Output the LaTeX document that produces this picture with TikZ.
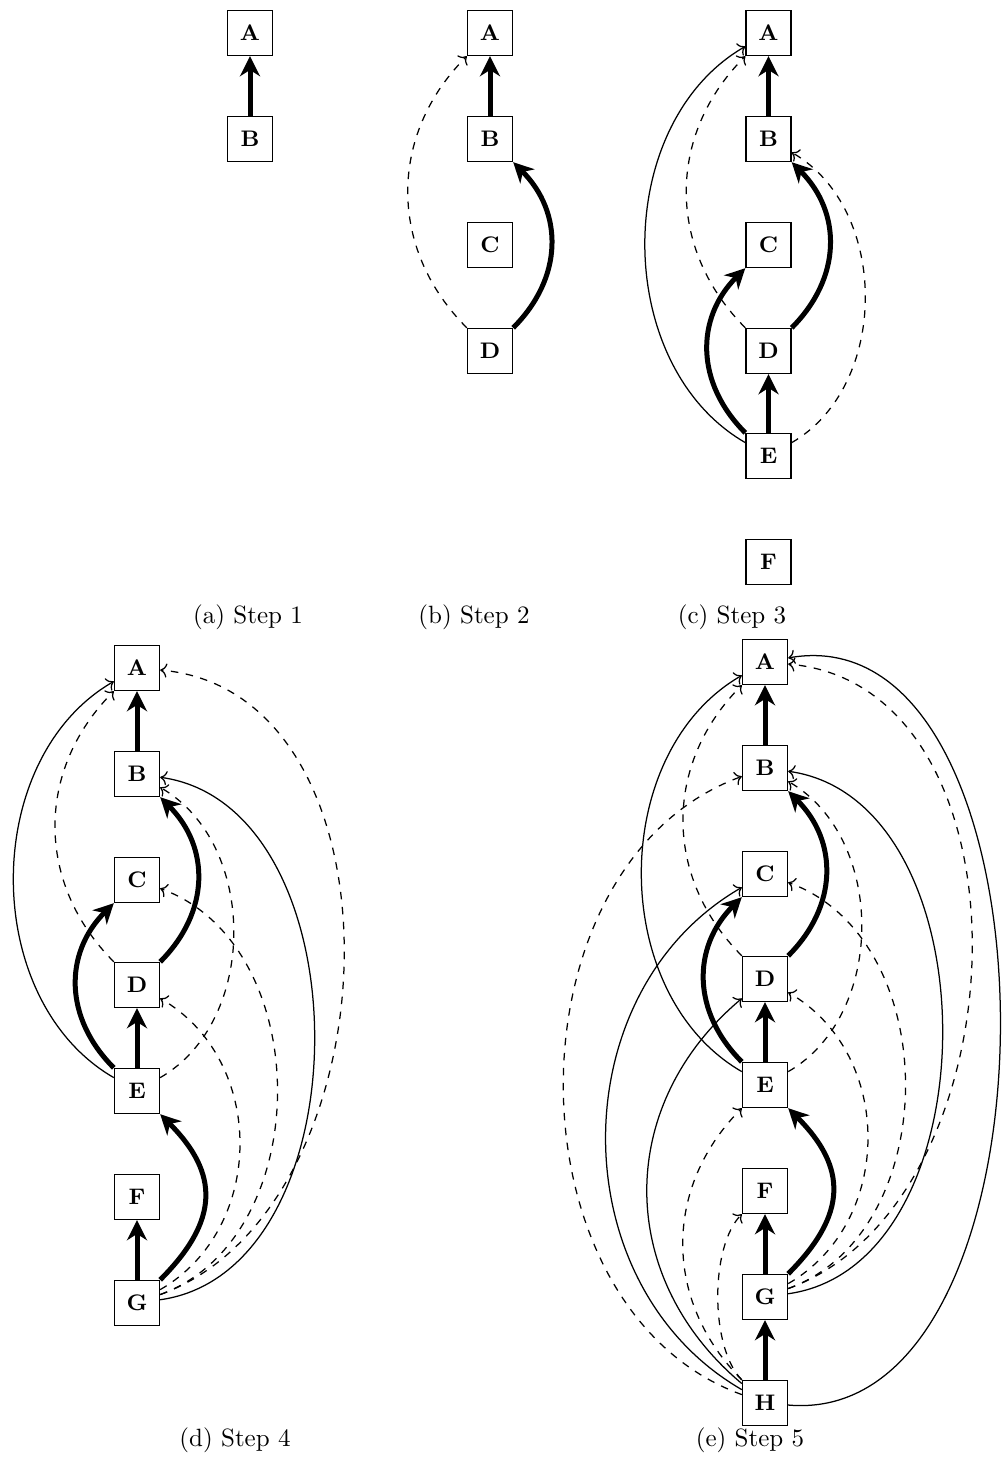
\documentclass[tikz,border=0pt]{standalone}
\usetikzlibrary{arrows.meta}
\begin{document}
\begin{tikzpicture}[x=0.4pt, y=-0.4pt,
  nd/.style={draw, line width=0.55pt, fill=white, minimum size=18pt, inner sep=0pt,
    font=\fontsize{9}{10}\selectfont\bfseries},
  tk/.style={line width=2pt, -{Stealth[length=8pt,width=8pt,inset=2.5pt]}},
  sl/.style={line width=0.5pt, ->},
  ds/.style={line width=0.5pt, dashed, ->},
  captxt/.style={font=\normalsize}]
\useasboundingbox (0,0) rectangle (1002,1476);

% ---------- (a) ----------
\node[nd] (aA) at (250,33) {A};
\node[nd] (aB) at (250,139) {B};
\draw[tk] (aB) -- (aA);
\node[captxt] (capa) at (248,617) {(a) Step 1};

% ---------- (b) ----------
\node[nd] (bA) at (490,33) {A};
\node[nd] (bB) at (490,139) {B};
\node[nd] (bC) at (490,245) {C};
\node[nd] (bD) at (490,351) {D};
\draw[tk] (bB) -- (bA);
\draw[tk] (bD) to[bend right=45, looseness=1.1] (bB);
\draw[ds] (bD) to[bend left=45, looseness=1.05] (bA);
\node[captxt] (capb) at (474,617) {(b) Step 2};

% ---------- (c) ----------
\node[nd] (cA) at (768.5,33) {A};
\node[nd] (cB) at (768.5,139) {B};
\node[nd] (cC) at (768.5,245) {C};
\node[nd] (cD) at (768.5,351) {D};
\node[nd] (cE) at (768.5,456) {E};
\node[nd] (cF) at (768.5,562) {F};
\draw[tk] (cB) -- (cA);
\draw[tk] (cD) to[bend right=45, looseness=1.1] (cB);
\draw[ds] (cD) to[bend left=45, looseness=1.05] (cA);
\draw[tk] (cE) -- (cD);
\draw[tk] (cE) to[bend left=45, looseness=1.1] (cC);
\draw[sl] (cE) to[bend left=60] (cA);
\draw[ds] (cE) to[bend right=60] (cB);
\node[captxt] (capc) at (732,617) {(c) Step 3};

% ---------- (d) ----------
\node[nd] (dA) at (137,668) {A};
\node[nd] (dB) at (137,774) {B};
\node[nd] (dC) at (137,880) {C};
\node[nd] (dD) at (137,985) {D};
\node[nd] (dE) at (137,1091) {E};
\node[nd] (dF) at (137,1197) {F};
\node[nd] (dG) at (137,1303) {G};
\draw[tk] (dB) -- (dA);
\draw[tk] (dD) to[bend right=45, looseness=1.1] (dB);
\draw[ds] (dD) to[bend left=45, looseness=1.05] (dA);
\draw[tk] (dE) -- (dD);
\draw[tk] (dE) to[bend left=45, looseness=1.1] (dC);
\draw[sl] (dE) to[bend left=60] (dA);
\draw[ds] (dE) to[bend right=60] (dB);
\draw[tk] (dG) -- (dF);
\draw[tk] (dG) to[bend right=45, looseness=1.3] (dE);
\draw[ds] (dG) to[bend right=60, looseness=1.08] (dD);
\draw[ds] (dG) to[bend right=70, looseness=1.05] (dC);
\draw[sl] (dG) to[bend right=82, looseness=1.02] (dB);
\draw[ds] (dG) to[out=20, in=-5, looseness=1.04] (dA);
\node[captxt] (capd) at (235,1440) {(d) Step 4};

% ---------- (e) ----------
\node[nd] (eA) at (765,662) {A};
\node[nd] (eB) at (765,768) {B};
\node[nd] (eC) at (765,874) {C};
\node[nd] (eD) at (765,979) {D};
\node[nd] (eE) at (765,1085) {E};
\node[nd] (eF) at (765,1191) {F};
\node[nd] (eG) at (765,1297) {G};
\node[nd] (eH) at (765,1403) {H};
\draw[tk] (eB) -- (eA);
\draw[tk] (eD) to[bend right=45, looseness=1.1] (eB);
\draw[ds] (eD) to[bend left=45, looseness=1.05] (eA);
\draw[tk] (eE) -- (eD);
\draw[tk] (eE) to[bend left=45, looseness=1.1] (eC);
\draw[sl] (eE) to[bend left=60] (eA);
\draw[ds] (eE) to[bend right=60] (eB);
\draw[tk] (eG) -- (eF);
\draw[tk] (eG) to[bend right=45, looseness=1.3] (eE);
\draw[ds] (eG) to[bend right=60, looseness=1.08] (eD);
\draw[ds] (eG) to[bend right=70, looseness=1.05] (eC);
\draw[sl] (eG) to[bend right=82, looseness=1.02] (eB);
\draw[ds] (eG) to[out=20, in=-5, looseness=1.04] (eA);
\draw[tk] (eH) -- (eG);
\draw[ds] (eH) to[bend left=45, looseness=0.7] (eF);
\draw[ds] (eH) to[bend left=45, looseness=1.05] (eE);
\draw[sl] (eH) to[bend left=50, looseness=1.1] (eD);
\draw[sl] (eH) to[bend left=60, looseness=1.07] (eC);
\draw[ds] (eH) to[bend left=70, looseness=1.05] (eB);
\draw[sl] (eH) to[out=-5, in=10, looseness=0.98] (eA);
\node[captxt] (cape) at (750,1440) {(e) Step 5};
\end{tikzpicture}
\end{document}
